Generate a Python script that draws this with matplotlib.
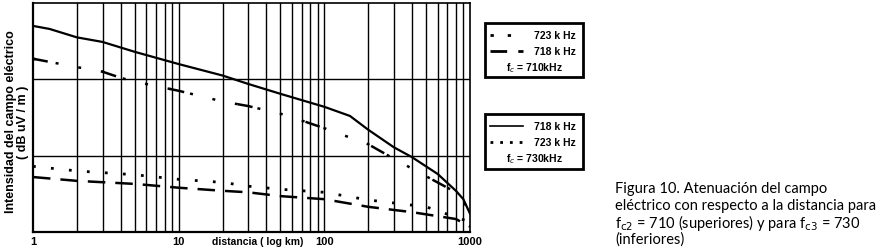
import matplotlib
matplotlib.use("Agg")
import matplotlib.pyplot as plt
from matplotlib.lines import Line2D
from matplotlib.patches import Rectangle

# ---- data (distance km, field intensity in relative units 0..3) ----
x_upper_solid = [1, 1.3, 2, 3, 5, 10, 20, 30, 50, 100, 150, 200, 300, 400, 600, 800, 900, 1000]
y_upper_solid = [2.70, 2.66, 2.55, 2.49, 2.36, 2.20, 2.05, 1.94, 1.81, 1.64, 1.52, 1.34, 1.11, 0.98, 0.76, 0.54, 0.43, 0.24]

x_upper_dd = [1, 2, 3, 4, 5, 10, 20, 30, 50, 70, 100, 200, 300, 500, 800, 1000]
y_upper_dd = [2.27, 2.16, 2.10, 2.02, 1.97, 1.85, 1.71, 1.65, 1.55, 1.46, 1.36, 1.15, 0.96, 0.73, 0.52, 0.28]

x_lower_dot = [1, 2, 5, 10, 20, 30, 50, 100, 200, 500, 1000]
y_lower_dot = [0.86, 0.80, 0.75, 0.69, 0.65, 0.60, 0.56, 0.52, 0.42, 0.33, 0.13]

x_lower_dash = [1, 2, 5, 10, 20, 30, 50, 100, 200, 400, 800, 1000]
y_lower_dash = [0.72, 0.67, 0.63, 0.58, 0.54, 0.52, 0.47, 0.43, 0.33, 0.26, 0.17, 0.07]

xticks = [1, 10, 100, 1000]
xtick_labels = ["1", "10", "100", "1000"]
vgrid = [2, 3, 4, 5, 6, 7, 8, 9, 10, 20, 30, 40, 50, 60, 70, 80, 90, 100,
         200, 300, 400, 500, 600, 700, 800, 900]
hgrid = [1, 2]

legend_top = ["723 k Hz", "718 k Hz", "f$_c$ = 710kHz"]
legend_bot = ["718 k Hz", "723 k Hz", "f$_c$ = 730kHz"]
caption = ["Figura 10. Atenuación del campo",
           "eléctrico con respecto a la distancia para",
           "f$_{\\mathrm{c2}}$ = 710 (superiores) y para f$_{\\mathrm{c3}}$ = 730",
           "(inferiores)"]

W, H = 882, 253
plt.rcParams['font.family'] = ['Liberation Sans', 'DejaVu Sans']
fig = plt.figure(figsize=(W / 100, H / 100), dpi=100)

def fx(px):
    return px / W

def fy(py):
    return 1 - py / H

ax = fig.add_axes([fx(33), fy(233), fx(470) - fx(33), fy(4) - fy(233)])
ax.set_xscale("log")
ax.set_xlim(1, 1000)
ax.set_ylim(0, 3)
for v in vgrid:
    ax.axvline(v, color="black", lw=1.0, zorder=1)
for h in hgrid:
    ax.axhline(h, color="black", lw=1.0, zorder=1)

ax.plot(x_upper_solid, y_upper_solid, color="black", lw=1.6, zorder=3)
ax.plot(x_upper_dd, y_upper_dd, color="black", lw=1.8, dashes=(6, 22), zorder=3)
ax.plot(x_upper_dd, y_upper_dd, color="black", lw=1.8, dashes=(1.2, 8), dash_capstyle="butt", zorder=3)
ax.plot(x_lower_dot, y_lower_dot, color="black", lw=2.0, dashes=(1, 5.5), zorder=3)
ax.plot(x_lower_dash, y_lower_dash, color="black", lw=1.8, dashes=(7, 4), zorder=3)

ax.set_xticks(xticks)
ax.set_xticklabels(xtick_labels, fontsize=8, fontweight="bold")
ax.xaxis.set_minor_locator(matplotlib.ticker.NullLocator())
ax.tick_params(axis="x", length=0, pad=3)
ax.set_yticks([])
for s in ax.spines.values():
    s.set_linewidth(1.2)
ax.spines["left"].set_linewidth(1.6)
ax.spines["bottom"].set_linewidth(1.6)

fig.text(fx(258), fy(242), "distancia ( log km)", fontsize=7.5, fontweight="bold",
         ha="center", va="center")
fig.text(fx(17), fy(122), "Intensidad del campo eléctrico\n( dB uV / m )", fontsize=9,
         fontweight="bold", rotation=90, ha="center", va="center", linespacing=1.05)

# legend boxes
def box(y0, y1, labels, styles):
    fig.patches.append(Rectangle((fx(485), fy(y1)), fx(583) - fx(485), fy(y0) - fy(y1),
                                 transform=fig.transFigure, fill=False, lw=2.0,
                                 edgecolor="black"))
    rows = [y0 + 12, y0 + 28]
    for ry, lab, st in zip(rows, labels[:2], styles):
        fig.lines.append(Line2D([fx(490), fx(523)], [fy(ry), fy(ry)],
                                transform=fig.transFigure, color="black", **st))
        fig.text(fx(576), fy(ry), lab, fontsize=7.5, fontweight="bold", ha="right", va="center")
    fig.text(fx(534), fy(y0 + 44), labels[2], fontsize=7.5, fontweight="bold",
             ha="center", va="center")

box(24, 78, legend_top, [dict(lw=2.0, dashes=(1.2, 5)), dict(lw=2.0, dashes=(6, 4))])
box(115, 170, legend_bot, [dict(lw=1.2), dict(lw=2.0, dashes=(1, 2.5))])

for i, line in enumerate(caption):
    fig.text(fx(615), fy(189 + i * 17), line, fontsize=10.5, family=["Lato", "DejaVu Sans"],
             ha="left", va="center")

fig.savefig("out.png", dpi=100)
